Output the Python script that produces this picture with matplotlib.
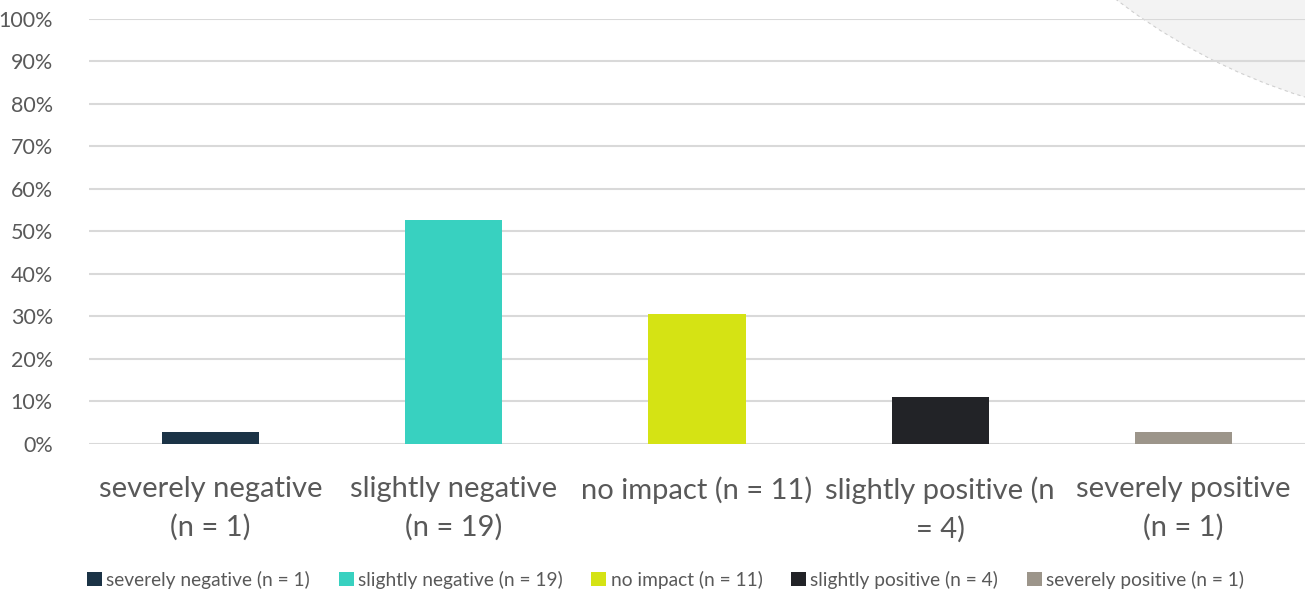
import matplotlib
matplotlib.use("Agg")
import matplotlib.pyplot as plt
from matplotlib.patches import Patch, Circle

# data
categories = ["severely negative (n = 1)", "slightly negative (n = 19)", "no impact (n = 11)",
              "slightly positive (n = 4)", "severely positive (n = 1)"]
tick_labels = ["severely negative\n(n = 1)", "slightly negative\n(n = 19)", "no impact (n = 11)",
               "slightly positive (n\n= 4)", "severely positive\n(n = 1)"]
counts = [1, 19, 11, 4, 1]
percent = [100.0 * c / sum(counts) for c in counts]
colors = ["#1b3346", "#38d1c0", "#d5e314", "#222327", "#9c958a"]

plt.rcParams['font.family'] = ['Lato', 'DejaVu Sans']
text_col = "#595959"

fig = plt.figure(figsize=(13.05, 5.92), dpi=100)
# decorative grey circle top right
fig.add_artist(Circle((14.83, 10.71), 6.03, transform=fig.dpi_scale_trans,
                      facecolor="#f3f3f3", edgecolor="#d0d0d0", lw=0.8, ls=(0, (3, 3)), zorder=0))

ax = fig.add_axes([0.0682, 0.25, 0.9318, 0.718])
ax.patch.set_alpha(0)
x = range(len(counts))
ax.bar(x, percent, width=0.4, color=colors, zorder=3)
ax.set_xlim(-0.5, 4.5)
ax.set_ylim(0, 100)
ax.set_yticks(range(0, 101, 10))
ax.set_yticklabels([f"{v}%" for v in range(0, 101, 10)], fontsize=15.5, color=text_col)
ax.set_xticks(list(x))
ax.set_xticklabels(tick_labels, fontsize=21, color=text_col, linespacing=1.55)
ax.tick_params(axis='y', length=0, pad=26)
ax.tick_params(axis='x', length=0, pad=23)
ax.yaxis.grid(True, color="#d9d9d9", lw=1.5, zorder=0)
for s in ax.spines.values():
    s.set_visible(False)

handles = [Patch(facecolor=c, label=l) for c, l in zip(colors, categories)]
fig.legend(handles=handles, loc="center", bbox_to_anchor=(0.51, 0.021), ncol=5, frameon=False,
           fontsize=13.8, labelcolor=text_col, handlelength=0.78, handleheight=0.78,
           handletextpad=0.22, columnspacing=1.5)

fig.savefig("out.png", dpi=100)
